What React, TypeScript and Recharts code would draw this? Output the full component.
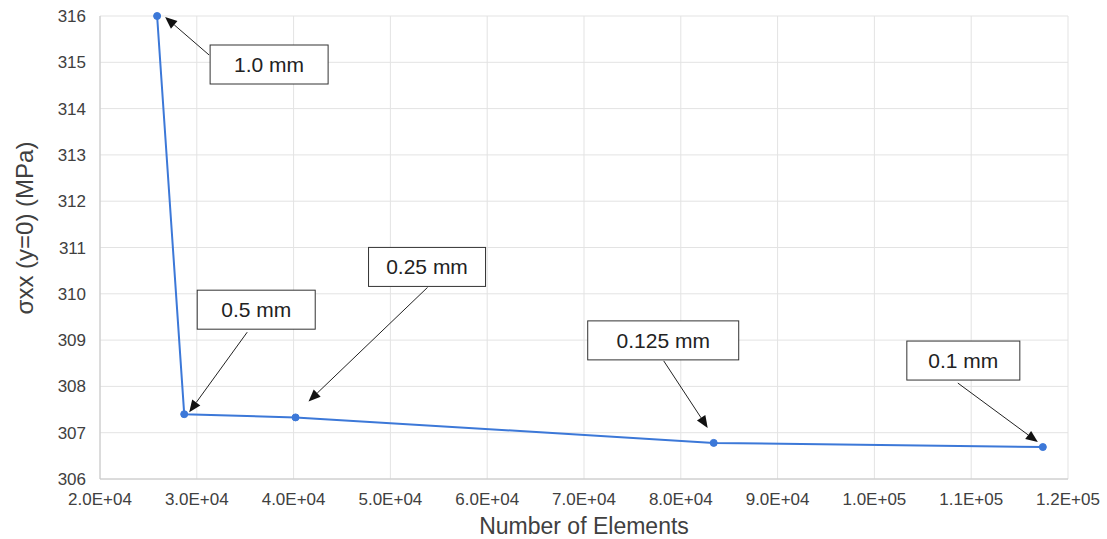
import { CartesianGrid, LabelList, Line, LineChart, XAxis, YAxis } from 'recharts';

const elements = [25900, 28700, 40200, 83400, 117400];
const stress = [316.0, 307.4, 307.33, 306.78, 306.69];
const meshSizes = ['1.0 mm', '0.5 mm', '0.25 mm', '0.125 mm', '0.1 mm'];
const xTicks = [20000, 30000, 40000, 50000, 60000, 70000, 80000, 90000, 100000, 110000, 120000];
const yTicks = [306, 307, 308, 309, 310, 311, 312, 313, 314, 315, 316];

const data = elements.map((n, i) => ({ n, s: stress[i], mesh: meshSizes[i] }));

// callout placement relative to each point, in px: box left/top/width, arrow tail and tip
const callouts = [
  { bx: 53, by: 29, bw: 118, tx: 52, ty: 39, hx: 8, hy: 1 },
  { bx: 13, by: -124, bw: 118, tx: 63, ty: -82, hx: 5, hy: -2 },
  { bx: 73, by: -170, bw: 117, tx: 132, ty: -130, hx: 13, hy: -16 },
  { bx: -126, by: -122, bw: 151, tx: -50, ty: -82, hx: -6, hy: -15 },
  { bx: -136, by: -106, bw: 113, tx: -85, ty: -64, hx: -5, hy: -5 },
];

const FONT = '"Liberation Sans", Arial, sans-serif';
const TEXT = '#404040';

const fmtExp = (v: number) => {
  const e = Math.floor(Math.log10(v));
  const m = v / Math.pow(10, e);
  return `${m.toFixed(1)}E+${String(e).padStart(2, '0')}`;
};

function Callout(props: any) {
  const { x, y, index, value } = props;
  const c = callouts[index];
  if (!c) return null;
  const h = 39;
  const x1 = x + c.tx, y1 = y + c.ty, x2 = x + c.hx, y2 = y + c.hy;
  const ang = Math.atan2(y2 - y1, x2 - x1);
  const len = 12, half = 5;
  const bxp = x2 - len * Math.cos(ang), byp = y2 - len * Math.sin(ang);
  const px = -Math.sin(ang) * half, py = Math.cos(ang) * half;
  return (
    <g>
      <line x1={x1} y1={y1} x2={bxp} y2={byp} stroke="#222" strokeWidth={1} />
      <polygon
        points={`${x2},${y2} ${bxp + px},${byp + py} ${bxp - px},${byp - py}`}
        fill="#111"
      />
      <rect x={x + c.bx} y={y + c.by} width={c.bw} height={h} fill="#fff" stroke="#333" strokeWidth={1} />
      <text
        x={x + c.bx + c.bw / 2}
        y={y + c.by + h / 2 + 7.5}
        textAnchor="middle"
        fontSize={21}
        fill="#222"
        fontFamily={FONT}
      >
        {value}
      </text>
    </g>
  );
}

const YTitle = () => (
  <text
    x={33}
    y={228}
    transform="rotate(-90, 33, 228)"
    textAnchor="middle"
    fontSize={24}
    fill={TEXT}
    fontFamily={FONT}
  >
    σxx (y=0) (MPa)
  </text>
);

export default function App() {
  return (
    <div style={{ position: 'absolute', left: 0, top: 0, background: '#fff' }}>
      <LineChart
        width={1107}
        height={539}
        data={data}
        margin={{ top: 16, right: 39, left: 0, bottom: 0 }}
        style={{ fontFamily: FONT }}
      >
        <CartesianGrid stroke="#e3e3e3" strokeWidth={1} />
        <XAxis
          dataKey="n"
          type="number"
          domain={[20000, 120000]}
          ticks={xTicks}
          tickFormatter={fmtExp}
          height={60}
          tickLine={false}
          tickMargin={8}
          axisLine={{ stroke: '#c6c6c6' }}
          tick={{ fill: TEXT, fontSize: 17 }}
          label={{ value: 'Number of Elements', position: 'insideBottom', offset: 5, fill: TEXT, fontSize: 23 }}
        />
        <YAxis
          type="number"
          domain={[306, 316]}
          ticks={yTicks}
          width={100}
          tickLine={false}
          tickMargin={8}
          axisLine={{ stroke: '#c6c6c6' }}
          tick={{ fill: TEXT, fontSize: 17 }}
          label={{ content: <YTitle /> }}
        />
        <Line
          dataKey="s"
          stroke="#3c78d8"
          strokeWidth={2}
          dot={{ r: 3.5, fill: '#3c78d8', stroke: '#3c78d8', strokeWidth: 1 }}
          isAnimationActive={false}
        >
          <LabelList dataKey="mesh" content={<Callout />} />
        </Line>
      </LineChart>
    </div>
  );
}
